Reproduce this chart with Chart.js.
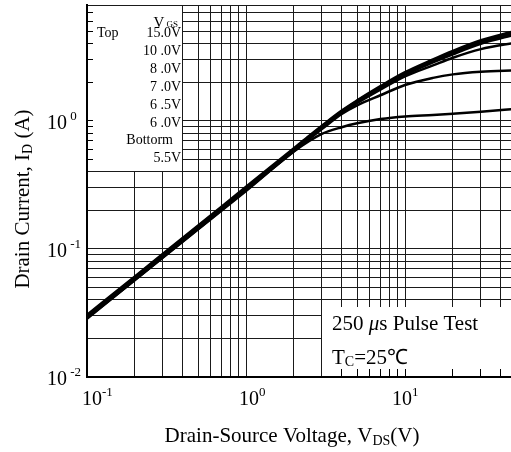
<!DOCTYPE html>
<html>
<head>
<meta charset="utf-8">
<script src="https://cdn.jsdelivr.net/npm/chart.js@4.4.1/dist/chart.umd.min.js"></script>
<style>
  html, body { margin: 0; padding: 0; background: #fff; }
  canvas { display: block; }
</style>
</head>
<body>
<canvas id="outputChart" width="511" height="452"></canvas>
<script>
/* ── Data (VDS in V, ID in A) ────────────────────────────────────────── */
const vds = [0.1, 0.2, 0.5, 1, 2, 2.5, 3, 4, 5, 7, 10, 15, 20, 30, 50];

const id15v  = [0.0305, 0.061, 0.152, 0.305, 0.610, 0.765, 0.915, 1.200, 1.440, 1.86, 2.39, 3.01, 3.51, 4.25, 5.05];
const id10v  = [0.0300, 0.060, 0.150, 0.300, 0.600, 0.752, 0.900, 1.185, 1.425, 1.83, 2.35, 2.96, 3.45, 4.17, 4.95];
const id8v   = [0.0297, 0.059, 0.148, 0.297, 0.595, 0.745, 0.893, 1.175, 1.410, 1.81, 2.32, 2.91, 3.38, 4.08, 4.85];
const id7v   = [0.0294, 0.059, 0.147, 0.294, 0.590, 0.738, 0.885, 1.160, 1.390, 1.78, 2.28, 2.85, 3.30, 3.98, 4.72];
const id6_5v = [0.0291, 0.058, 0.145, 0.290, 0.585, 0.730, 0.875, 1.150, 1.375, 1.75, 2.22, 2.70, 3.10, 3.62, 4.08];
const id6v   = [0.0288, 0.057, 0.143, 0.287, 0.578, 0.720, 0.860, 1.130, 1.320, 1.58, 1.90, 2.16, 2.30, 2.41, 2.48];
const id5_5v = [0.0285, 0.057, 0.142, 0.283, 0.575, 0.695, 0.790, 0.890, 0.955, 1.03, 1.08, 1.11, 1.135, 1.175, 1.24];

const seriesList = [id15v, id10v, id8v, id7v, id6_5v, id6v, id5_5v];

/* ── Axes / labels ───────────────────────────────────────────────────── */
const xDecades = [0.1, 1, 10];
const xExps = ["-1", "0", "1"];
const yDecades = [0.01, 0.1, 1];
const yExps = ["-2", "-1", "0"];
const xMin = 0.1, xMax = 46.4;
const yMin = 0.01, yMax = 8;

const legendRows = ["15.0V", "10 .0V", "8 .0V", "7 .0V", "6 .5V", "6 .0V", "Bottorm", "5.5V"];

// 1..9 gridlines per decade
function gridValues(decades, lo, hi) {
  const out = [];
  decades.concat([decades[decades.length - 1] * 10]).forEach((d) => {
    for (let m = 1; m <= 9; m++) {
      const v = +(d * m).toPrecision(3);
      if (v >= lo && v <= hi) out.push(v);
    }
  });
  return out;
}
const xGrid = gridValues(xDecades, xMin, xMax);
const yGrid = gridValues(yDecades, yMin, yMax);

const SERIF = '"Liberation Serif", "Times New Roman", serif';

/* ── Helpers for mixed-size text runs ────────────────────────────────── */
function runWidth(ctx, runs) {
  let w = 0;
  runs.forEach((r) => {
    ctx.font = `${r.italic ? "italic " : ""}${r.size}px ${SERIF}`;
    w += ctx.measureText(r.t).width;
  });
  return w;
}
function drawRuns(ctx, runs, x, y) {
  runs.forEach((r) => {
    ctx.font = `${r.italic ? "italic " : ""}${r.size}px ${SERIF}`;
    ctx.fillText(r.t, x, y + (r.dy || 0));
    x += ctx.measureText(r.t).width;
  });
  return x;
}

/* ── Decoration plugin: boxes, annotations, tick labels, titles ─────── */
const decorPlugin = {
  id: "decor",
  beforeDatasetsDraw(chart) {
    const { ctx, chartArea: a, scales: { x, y } } = chart;
    ctx.save();

    // legend box (covers grid)
    const lbRight = Math.floor(x.getPixelForValue(0.4));
    const lbBottom = Math.floor(y.getPixelForValue(0.4));
    ctx.fillStyle = "#fff";
    ctx.fillRect(a.left + 1, a.top + 1, lbRight - a.left - 1, lbBottom - a.top - 1);

    // pulse test box
    const pbLeft = Math.floor(x.getPixelForValue(3)) + 1;
    const pbTop = Math.round(y.getPixelForValue(0.035));
    ctx.fillRect(pbLeft, pbTop, a.right - pbLeft, a.bottom - 1 - pbTop);

    // inward ticks over the boxes
    ctx.strokeStyle = "#000";
    ctx.lineWidth = 1;
    ctx.beginPath();
    yGrid.forEach((v) => {
      const py = Math.floor(y.getPixelForValue(v)) + 0.5;
      if (py > a.top + 1 && py < lbBottom) {
        ctx.moveTo(a.left, py);
        ctx.lineTo(a.left + 6, py);
      }
    });
    xGrid.forEach((v) => {
      const px = Math.floor(x.getPixelForValue(v)) + 0.5;
      if (px > pbLeft) {
        ctx.moveTo(px, a.bottom);
        ctx.lineTo(px, a.bottom - 8);
      }
    });
    ctx.stroke();

    // legend text
    ctx.fillStyle = "#000";
    ctx.textBaseline = "alphabetic";
    const rx = lbRight - 1;
    const vgs = [{ t: "V", size: 15 }, { t: " ", size: 9 }, { t: "GS", size: 9 }];
    drawRuns(ctx, vgs, rx - 3 - runWidth(ctx, vgs), 27);
    legendRows.forEach((t, i) => {
      const by = 37 + i * 17.9;
      ctx.font = `14px ${SERIF}`;
      const w = ctx.measureText(t).width;
      const shift = t === "Bottorm" ? 8 : 0;
      ctx.fillText(t, rx - w - shift, by);
    });
    ctx.font = `14px ${SERIF}`;
    ctx.fillText("Top", a.left + 10, 37);

    // pulse test text
    drawRuns(ctx, [
      { t: "250 ", size: 21 }, { t: "\u03bc", size: 21, italic: true },
      { t: "s Pulse Test", size: 21 }
    ], pbLeft + 10, 330);
    drawRuns(ctx, [
      { t: "T", size: 21 }, { t: "C", size: 14, dy: 2 }, { t: "=25\u2103", size: 21 }
    ], pbLeft + 10, 364);

    ctx.restore();
  },
  afterDraw(chart) {
    const { ctx, scales: { x, y } } = chart;
    ctx.save();
    ctx.fillStyle = "#000";
    ctx.textBaseline = "alphabetic";

    // x tick labels 10^n
    const xShift = [-5, -7, -13];
    xDecades.forEach((v, i) => {
      const px = x.getPixelForValue(v);
      drawRuns(ctx, [{ t: "10", size: 20 }, { t: xExps[i], size: 13, dy: -9 }], px + xShift[i], 405);
    });

    // y tick labels 10^n
    yDecades.forEach((v, i) => {
      const py = y.getPixelForValue(v);
      drawRuns(ctx, [{ t: "10", size: 20 }, { t: " " + yExps[i], size: 13, dy: -9 }], 47, py + 8);
    });

    // x title
    const xt = [
      { t: "Drain-Source Voltage, V", size: 21 }, { t: "DS", size: 14, dy: 3 }, { t: "(V)", size: 21 }
    ];
    drawRuns(ctx, xt, 292 - runWidth(ctx, xt) / 2, 442);

    // y title (rotated)
    const yt = [
      { t: "Drain Current, I", size: 21 }, { t: "D", size: 14, dy: 3 }, { t: " (A)", size: 21 }
    ];
    ctx.translate(29, 199);
    ctx.rotate(-Math.PI / 2);
    drawRuns(ctx, yt, -runWidth(ctx, yt) / 2, 0);

    ctx.restore();
  }
};

/* ── Chart ───────────────────────────────────────────────────────────── */
const datasets = seriesList.map((arr) => ({
  data: vds.map((v, i) => ({ x: v, y: arr[i] })),
  borderColor: "#000",
  borderWidth: 2.5,
  pointRadius: 0,
  fill: false,
  cubicInterpolationMode: "monotone",
}));

const axisCommon = {
  type: "logarithmic",
  ticks: { display: false },
  grid: { color: "#1a1a1a", lineWidth: 1, drawTicks: false },
  border: { display: true, color: "#000", width: 2 },
};

new Chart(document.getElementById("outputChart"), {
  type: "line",
  data: { datasets },
  options: {
    responsive: false,
    animation: false,
    devicePixelRatio: 1,
    layout: { padding: { left: 87, right: 0, top: 5, bottom: 75 } },
    plugins: { legend: { display: false }, tooltip: { enabled: false } },
    scales: {
      x: {
        ...axisCommon,
        min: xMin,
        max: xMax,
        afterBuildTicks: (s) => { s.ticks = xGrid.map((v) => ({ value: v })); },
      },
      y: {
        ...axisCommon,
        min: yMin,
        max: yMax,
        afterBuildTicks: (s) => { s.ticks = yGrid.map((v) => ({ value: v })); },
      },
    },
  },
  plugins: [decorPlugin],
});
</script>
</body>
</html>
